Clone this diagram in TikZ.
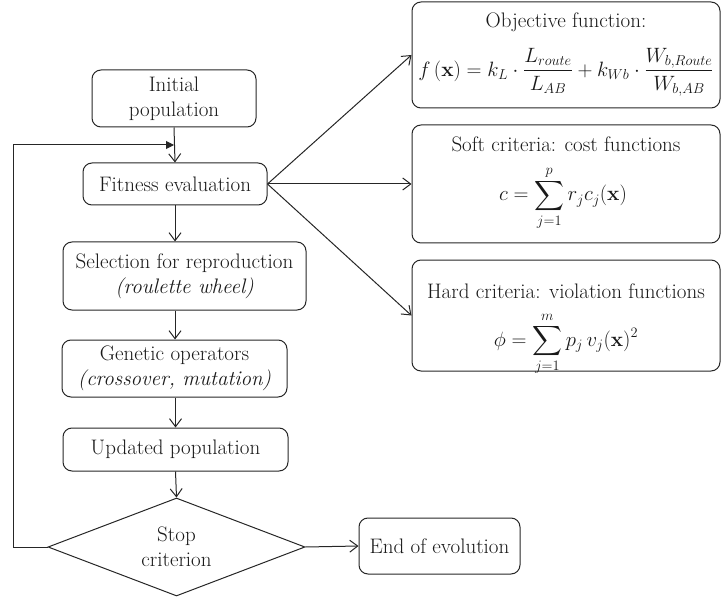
\documentclass[tikz,border=0pt]{standalone}
\usepackage{amsmath}
\usetikzlibrary{shapes.geometric,arrows.meta}
\begin{document}
\begin{tikzpicture}[x=1pt,y=-1pt,
  line width=1pt,
  every node/.style={font=\fontsize{21}{25}\selectfont, text=black!90, inner sep=0pt},
  mathtxt/.style={font=\fontsize{20.5}{25}\selectfont},
  box/.style={draw=black!85, rounded corners=9pt, align=center, inner sep=0pt},
  decision/.style={draw=black!85, diamond, aspect=2.62, inner sep=0pt, align=center},
  arr/.style={draw=black!85, -{Straight Barb[length=8pt,width=12pt]}},
  fbarr/.style={draw=black!85, -{Triangle[length=8pt,width=8pt]}}]
\useasboundingbox (0,0) rectangle (721,599);

\node[box, minimum width=164pt, minimum height=57pt] (init) at (174,98.5) {Initial\\population};
\node[box, minimum width=184pt, minimum height=42pt] (fit) at (175,184) {Fitness evaluation};
\node[box, minimum width=243pt, minimum height=68pt] (sel) at (184.5,276) {Selection for reproduction\\\textit{(roulette wheel)}};
\node[box, minimum width=225pt, minimum height=57pt] (gen) at (174.5,368.5) {Genetic operators\\\textit{(crossover, mutation)}};
\node[box, minimum width=225pt, minimum height=43pt] (upd) at (175.5,449.5) {Updated population};
\node[decision, minimum width=257pt, minimum height=98pt] (stop) at (176.5,547) {Stop\\criterion};
\node[box, minimum width=161pt, minimum height=56pt] (end) at (439.5,546) {End of evolution};

\node[box, minimum width=308pt, minimum height=106pt] (obj) at (566,55) {};
\node (objt) at (566,22) {Objective function:};
\node[font=\fontsize{22}{26}\selectfont] (objf) at (566,72) {$f\,(\mathbf{x}) = k_L\cdot\dfrac{L_{route}}{L_{AB}} + k_{Wb}\cdot\dfrac{W_{b,Route}}{W_{b,AB}}$};

\node[box, minimum width=308pt, minimum height=118pt] (soft) at (566,184) {};
\node (softt) at (566,144) {Soft criteria: cost functions};
\node[mathtxt] (softf) at (563,198) {$\displaystyle c = \sum_{j=1}^{p} r_j c_j(\mathbf{x})$};

\node[box, minimum width=308pt, minimum height=111pt] (hard) at (566,315.5) {};
\node (hardt) at (566,291) {Hard criteria: violation functions};
\node[mathtxt] (hardf) at (566,344) {$\displaystyle \phi = \sum_{j=1}^{m} p_j\, v_j(\mathbf{x})^2$};

\coordinate (fbend) at (init.south |- 0,145);
\coordinate (fbcorner) at (13,145);

\draw[arr] (init.south) -- (fit.north);
\draw[arr] (fit.south) -- (fit.south |- sel.north);
\draw[arr] (sel.south -| fit.south) -- (fit.south |- gen.north);
\draw[arr] (gen.south -| upd.south) -- (upd.north);
\draw[arr] (upd.south) -- (stop.north);
\draw[arr] (stop.east) -- (end.west);
\draw[fbarr] (stop.west) -| (fbcorner) -- (fbend);

\draw[arr] (fit.east) -- (obj.west);
\draw[arr] (fit.east) -- (soft.west);
\draw[arr] (fit.east) -- (hard.west);
\end{tikzpicture}
\end{document}
